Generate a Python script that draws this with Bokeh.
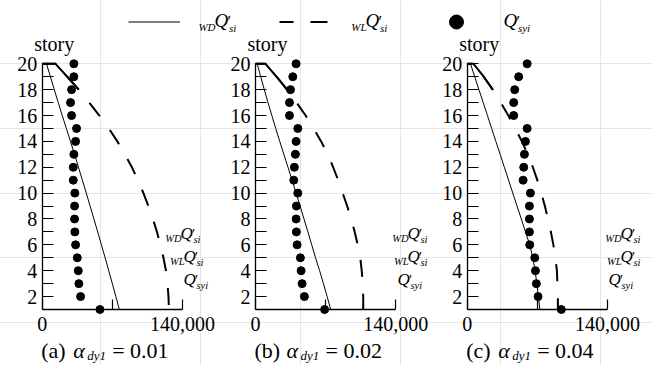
from bokeh.plotting import figure
from bokeh.models import Range1d, FixedTicker, Label, Legend, LegendItem, LinearAxis
from bokeh.embed import file_html
from bokeh.resources import INLINE

FONT = "Liberation Serif"

# ---------------- data ----------------
stories = [20, 19, 18, 17, 16, 15, 14, 13, 12, 11, 10, 9, 8, 7, 6, 5, 4, 3, 2, 1]

x_ticks = [0, 70000, 140000]
x_tick_labels = {0: "0", 70000: "", 140000: "140,000"}
y_ticks = list(range(1, 21))
y_tick_labels = {s: (str(s) if s % 2 == 0 else "") for s in y_ticks}

panel_tags = ["(a)", "(b)", "(c)"]
alpha_values = ["0.01", "0.02", "0.04"]

# Q'syi  (dots)
qsy_a = [31600, 31600, 29300, 28300, 29300, 34300, 33300, 31600, 31000, 31000,
         32600, 32300, 32300, 32600, 33300, 35000, 36000, 36600, 38300, 57600]
qsy_b = [40500, 37200, 34900, 33900, 33900, 42200, 40500, 39800, 38800, 38200,
         42200, 40800, 40500, 40800, 41500, 44800, 45500, 46500, 48800, 69000]
qsy_c = [59800, 51400, 47400, 46400, 46400, 59800, 58100, 57100, 56400, 55800,
         63100, 62100, 62100, 62100, 62400, 67400, 68100, 69000, 70700, 93900]

# WD Q'si  (solid line)
wd_a = [4300, 8200, 12100, 16000, 20000, 24100, 28200, 32300, 36200, 40100,
        44000, 47800, 51600, 55400, 59100, 62800, 66400, 70000, 73500, 77000]
wd_b = [1700, 5200, 8800, 12500, 16300, 20200, 24200, 28300, 32400, 36500,
        40500, 44500, 48400, 52300, 56100, 59900, 64000, 67800, 71500, 75000]
wd_c = [3300, 7500, 11700, 16000, 20200, 24400, 28600, 32900, 37100, 41300,
        45500, 49700, 54000, 58200, 62400, 65500, 67700, 69500, 71000, 72500]

# WL Q'si  (dashed line); the line starts at 0 on story 20
wl_start = 0
wl_a = [13300, 25000, 36500, 47000, 57000, 66500, 75000, 82500, 89500, 95500,
        101000, 106000, 110500, 114500, 118000, 121000, 123500, 125000, 126000, 126500]
wl_b = [10000, 21000, 31500, 41000, 50000, 58000, 65500, 72000, 77500, 82500,
        87000, 91500, 95500, 99000, 102000, 104500, 106000, 107000, 107500, 107500]
wl_c = [6300, 16500, 25500, 33500, 41000, 48000, 54500, 60500, 65500, 70000,
        74000, 77500, 80500, 83500, 86000, 88000, 89500, 90000, 90500, 90500]

# ---------------- layout constants (pixels) ----------------
W, H = 652, 365
AXIS_PX = [41.7, 255.0, 466.7]          # where x = 0 sits in each panel
UPP = 140000 / 140.3                     # data units per pixel
STORY20_PX, STORY1_PX = 63.3, 309.0
SPP = (STORY1_PX - STORY20_PX) / 19.0    # pixels per story
DASH_OFFSETS = [3, 7, 12]
BASE_SHIFT = 0.36                        # label anchor correction (em)

p = figure(width=W, height=H, x_range=Range1d(0, W),
           y_range=Range1d(1 - (H - STORY1_PX) / SPP, 20 + STORY20_PX / SPP),
           output_backend="svg", toolbar_location=None, min_border=0,
           x_axis_location=None, y_axis_location=None, outline_line_color=None)
p.extra_y_ranges = {"px": Range1d(H, 0)}


def lab(text, x, y, size, style="normal", align="left"):
    p.add_layout(Label(x=x, y=y - BASE_SHIFT * size, y_range_name="px", text=text,
                       text_font=FONT, text_font_size=f"{size}px",
                       text_font_style=style, text_align=align,
                       text_baseline="alphabetic", text_color="black"))


def qlabel(x, y, prefix, sub, qs=17, ss=10.5):
    if prefix:
        lab(prefix, x + 1, y + 3, ss, "italic", "right")
    lab("Q", x, y, qs, "italic")
    lab("\u2032", x + qs * 0.68, y, qs * 0.85)
    lab(sub, x + qs * 0.76, y + 4, ss, "italic")


def style_axis(ax):
    ax.axis_line_width = 1.3
    ax.axis_line_color = "black"
    ax.major_tick_line_color = "black"
    ax.major_tick_line_width = 1.2
    ax.minor_tick_in = 0
    ax.minor_tick_out = 0
    ax.major_tick_out = 0
    ax.major_label_text_font = FONT
    ax.major_label_text_font_size = "20px"
    ax.major_label_text_color = "black"


series = [(qsy_a, wd_a, wl_a), (qsy_b, wd_b, wl_b), (qsy_c, wd_c, wl_c)]
q_anchor_x = [(180, 183, 183), (407, 407, 397), (620, 620, 608)]
keys = {}

for i, (qsy, wd, wl) in enumerate(series):
    n = "p%d" % i
    ax0 = AXIS_PX[i]
    p.extra_x_ranges[n] = Range1d(-ax0 * UPP, (W - ax0) * UPP)

    xa = LinearAxis(x_range_name=n, fixed_location=1, bounds=(0, 140000),
                    ticker=FixedTicker(ticks=x_ticks),
                    major_label_overrides=x_tick_labels)
    style_axis(xa)
    xa.major_tick_in = 10
    xa.major_label_standoff = 7
    p.add_layout(xa, "below")

    ya = LinearAxis(x_range_name=n, fixed_location=0, bounds=(1, 20),
                    ticker=FixedTicker(ticks=y_ticks),
                    major_label_overrides=y_tick_labels)
    style_axis(ya)
    ya.major_tick_in = 11
    ya.major_label_standoff = 5
    p.add_layout(ya, "left")

    wl_x = [wl_start] + wl
    wl_y = [stories[0]] + stories
    r_dash = p.line(wl_x, wl_y, x_range_name=n, line_color="black", line_width=2,
                    line_dash="17 17", line_dash_offset=DASH_OFFSETS[i])
    p.line(wl_x[:4], wl_y[:4], x_range_name=n, line_color="black", line_width=2)
    r_wd = p.line(wd, stories, x_range_name=n, line_color="black", line_width=1)
    r_dot = p.scatter(qsy, stories, x_range_name=n, size=8, color="black")
    if i == 0:
        keys = {"wd": r_wd, "wl": r_dash, "dot": r_dot}

    # axis title
    lab("story", ax0 + 12, 51, 20, align="center")

    # inline labels
    qx = q_anchor_x[i]
    qlabel(qx[0], 239, "WD", "si")
    qlabel(qx[1], 262, "WL", "si")
    qlabel(qx[2], 285, "", "syi")

    # caption
    lab(panel_tags[i], ax0 - 1, 358, 22)
    lab("\u03b1", ax0 + 31, 358, 22, "italic")
    lab("dy1", ax0 + 45, 360, 13, "italic")
    lab("= " + alpha_values[i], ax0 + 70, 358, 22)

# ---------------- legend ----------------
legend = Legend(items=[LegendItem(label=" ", renderers=[keys["wd"]]),
                       LegendItem(label=" ", renderers=[keys["wl"]]),
                       LegendItem(label=" ", renderers=[keys["dot"]])],
                orientation="horizontal", location=(128, H - 38.5),
                glyph_width=52, glyph_height=35, label_width=99, label_height=20,
                label_standoff=0, spacing=0, padding=0, margin=0,
                border_line_color=None, background_fill_alpha=0,
                label_text_font_size="2px")
p.add_layout(legend)
qlabel(214, 27, "WD", "si", qs=19, ss=11)
qlabel(365, 27, "WL", "si", qs=19, ss=11)
qlabel(503, 27, "", "syi", qs=19, ss=11)

open("out.html", "w").write(file_html(p, INLINE))
